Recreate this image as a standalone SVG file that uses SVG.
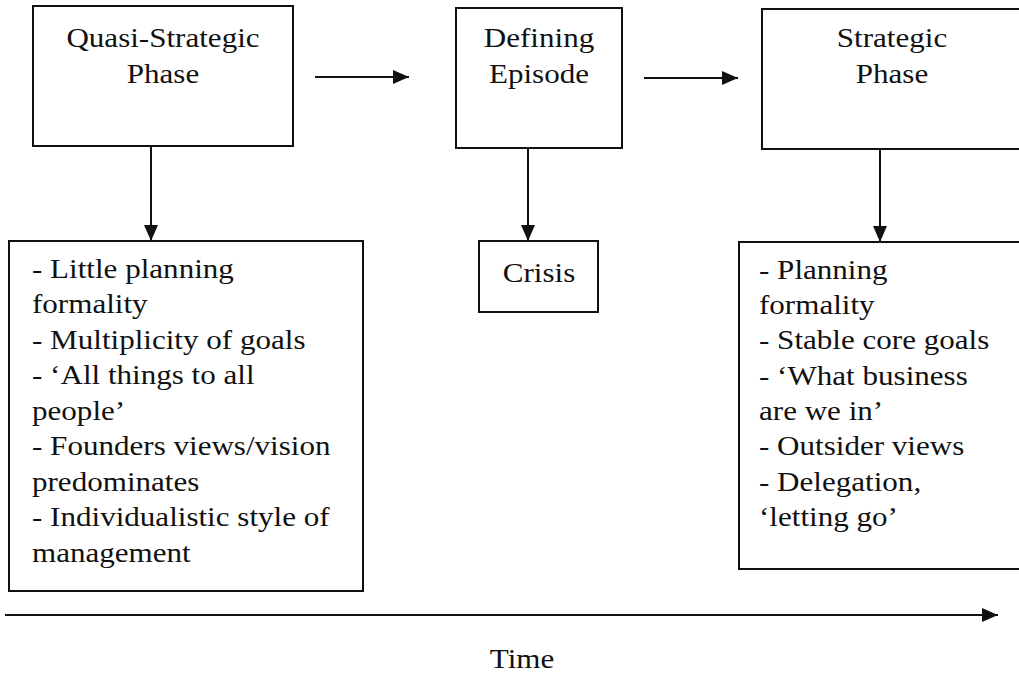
<svg xmlns="http://www.w3.org/2000/svg" width="1019" height="684" viewBox="0 0 1019 684">
  <style>
    .box { fill: #ffffff; stroke: #111111; stroke-width: 2; }
    .conn { fill: none; stroke: #111111; stroke-width: 2; }
    .t { font-family: "Liberation Serif", "Times New Roman", serif; font-size: 27.5px; fill: #111111; }
    .c { text-anchor: middle; }
  </style>
  <defs>
    <marker id="arrow" markerUnits="userSpaceOnUse" markerWidth="16" markerHeight="14" refX="16" refY="7" orient="auto">
      <path d="M0,0 L16,7 L0,14 z" fill="#111111"/>
    </marker>
  </defs>
  <rect width="1019" height="684" fill="#ffffff"/>

  <!-- connectors -->
  <g id="connectors">
    <line class="conn" x1="315" y1="77" x2="409" y2="77" marker-end="url(#arrow)"/>
    <line class="conn" x1="644" y1="78" x2="738" y2="78" marker-end="url(#arrow)"/>
    <line class="conn" x1="151" y1="146" x2="151" y2="241" marker-end="url(#arrow)"/>
    <line class="conn" x1="528" y1="148" x2="528" y2="241" marker-end="url(#arrow)"/>
    <line class="conn" x1="880" y1="149" x2="880" y2="242" marker-end="url(#arrow)"/>
    <line class="conn" x1="5" y1="615" x2="998" y2="615" marker-end="url(#arrow)"/>
  </g>

  <!-- phase boxes -->
  <g id="quasi-strategic-phase">
    <rect class="box" x="33" y="6" width="260" height="140"/>
    <text class="t c" transform="translate(163 0) scale(1.13 1)"><tspan x="0" y="47">Quasi-Strategic</tspan><tspan x="0" y="83">Phase</tspan></text>
  </g>

  <g id="defining-episode">
    <rect class="box" x="456" y="8" width="166" height="140"/>
    <text class="t c" transform="translate(539 0) scale(1.13 1)"><tspan x="0" y="47">Defining</tspan><tspan x="0" y="83">Episode</tspan></text>
  </g>

  <g id="strategic-phase">
    <rect class="box" x="762" y="9" width="280" height="140"/>
    <text class="t c" transform="translate(892 0) scale(1.13 1)"><tspan x="0" y="47">Strategic</tspan><tspan x="0" y="83">Phase</tspan></text>
  </g>

  <!-- characteristics -->
  <g id="quasi-strategic-traits">
    <rect class="box" x="9" y="241" width="354" height="350"/>
    <text class="t" transform="translate(32 0) scale(1.13 1)">
      <tspan x="0" y="278">- Little planning</tspan>
      <tspan x="0" y="313.5">formality</tspan>
      <tspan x="0" y="349">- Multiplicity of goals</tspan>
      <tspan x="0" y="384.5">- ‘All things to all</tspan>
      <tspan x="0" y="420">people’</tspan>
      <tspan x="0" y="455.5">- Founders views/vision</tspan>
      <tspan x="0" y="491">predominates</tspan>
      <tspan x="0" y="526.5">- Individualistic style of</tspan>
      <tspan x="0" y="562">management</tspan>
    </text>
  </g>

  <g id="crisis">
    <rect class="box" x="479" y="241" width="119" height="71"/>
    <text class="t c" transform="translate(539 0) scale(1.13 1)"><tspan x="0" y="282">Crisis</tspan></text>
  </g>

  <g id="strategic-traits">
    <rect class="box" x="739" y="242" width="300" height="327"/>
    <text class="t" transform="translate(759 0) scale(1.13 1)">
      <tspan x="0" y="279">- Planning</tspan>
      <tspan x="0" y="314">formality</tspan>
      <tspan x="0" y="349.5">- Stable core goals</tspan>
      <tspan x="0" y="385">- ‘What business</tspan>
      <tspan x="0" y="420">are we in’</tspan>
      <tspan x="0" y="455.5">- Outsider views</tspan>
      <tspan x="0" y="491">- Delegation,</tspan>
      <tspan x="0" y="526">‘letting go’</tspan>
    </text>
  </g>

  <g id="time-label">
    <text class="t c" transform="translate(522 0) scale(1.13 1)"><tspan x="0" y="668">Time</tspan></text>
  </g>
</svg>
